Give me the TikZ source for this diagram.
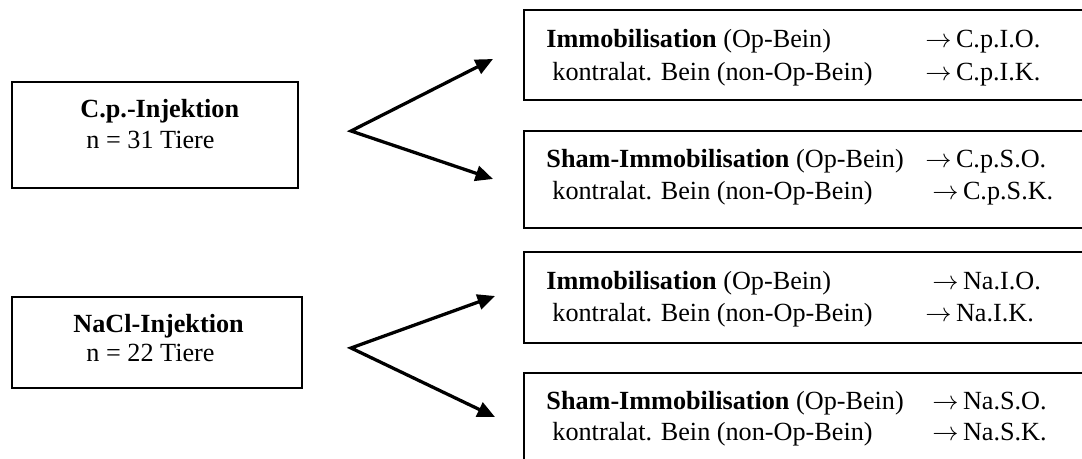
\documentclass[tikz,border=0pt]{standalone}
\usepackage{fontspec}
\setmainfont{Liberation Serif}
\usepackage{tikz}
\usetikzlibrary{positioning, fit, arrows.meta}

\begin{document}
\begin{tikzpicture}[
    x=0.458pt, y=-0.458pt,
    groupbox/.style={rectangle, draw, line width=0.9pt, inner sep=0pt},
    armbox/.style={rectangle, draw, line width=0.9pt, inner sep=0pt},
    txt/.style={anchor=base west, inner sep=0pt, font=\fontsize{12}{14}\selectfont},
    title/.style={txt, font=\fontsize{12}{14}\selectfont\bfseries},
    fan/.style={line width=1.5pt, {Triangle[length=8pt, width=7pt]}-{Triangle[length=8pt, width=7pt]}}
]
\useasboundingbox (0,0) rectangle (1082,459);
\clip (0,0) rectangle (1082,459);

% Injection groups
\node[groupbox, fit={(12,82) (298,188)}] (cp) {};
\node[groupbox, fit={(12,297) (302,388)}] (na) {};

\node[title] (cptitle) at (80,118) {C.p.-Injektion};
\node[txt] (cpn) at (86,149) {n = 31 Tiere};
\node[title] (natitle) at (73,333) {NaCl-Injektion};
\node[txt] (nan) at (86,362) {n = 22 Tiere};

% Treatment boxes
\node[armbox, fit={(524,10) (1100,100)}] (ci) {};
\node[armbox, fit={(524,131) (1100,228)}] (cs) {};
\node[armbox, fit={(524,252) (1100,343)}] (ni) {};
\node[armbox, fit={(524,373) (1100,470)}] (ns) {};

\node[txt] (ci1) at (546,48) {\textbf{Immobilisation} (Op-Bein)};
\node[txt] (ci1r) at (925,48) {$\rightarrow$\,C.p.I.O.};
\node[txt] (ci2) at (552,81) {kontralat. Bein (non-Op-Bein)};
\node[txt] (ci2r) at (925,81) {$\rightarrow$\,C.p.I.K.};

\node[txt] (cs1) at (546,168) {\textbf{Sham-Immobilisation} (Op-Bein)};
\node[txt] (cs1r) at (925,168) {$\rightarrow$\,C.p.S.O.};
\node[txt] (cs2) at (552,200) {kontralat. Bein (non-Op-Bein)};
\node[txt] (cs2r) at (932,200) {$\rightarrow$\,C.p.S.K.};

\node[txt] (ni1) at (546,290) {\textbf{Immobilisation} (Op-Bein)};
\node[txt] (ni1r) at (932,290) {$\rightarrow$\,Na.I.O.};
\node[txt] (ni2) at (552,322) {kontralat. Bein (non-Op-Bein)};
\node[txt] (ni2r) at (925,322) {$\rightarrow$\,Na.I.K.};

\node[txt] (ns1) at (546,410) {\textbf{Sham-Immobilisation} (Op-Bein)};
\node[txt] (ns1r) at (932,410) {$\rightarrow$\,Na.S.O.};
\node[txt] (ns2) at (552,441) {kontralat. Bein (non-Op-Bein)};
\node[txt] (ns2r) at (932,441) {$\rightarrow$\,Na.S.K.};

% Forks
\coordinate (cpfork) at (351,131);
\coordinate (citip) at (493,59);
\coordinate (cstip) at (493,179);
\coordinate (nafork) at (351,348);
\coordinate (nitip) at (495,296);
\coordinate (nstip) at (495,417);

\draw[fan] (citip) -- (cpfork) -- (cstip);
\draw[fan] (nitip) -- (nafork) -- (nstip);

\end{tikzpicture}
\end{document}
